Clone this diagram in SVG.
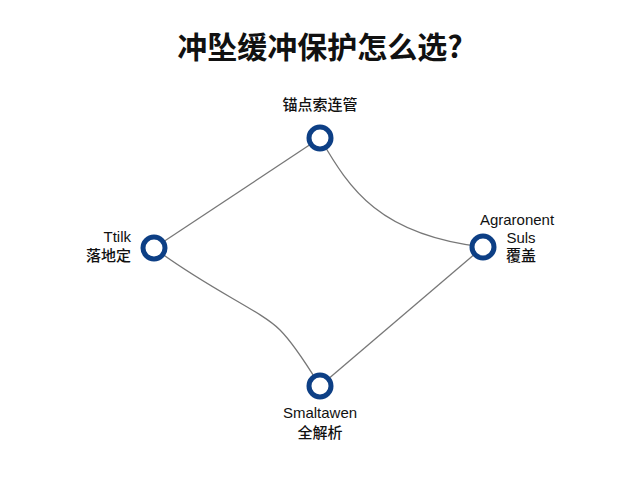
<svg xmlns="http://www.w3.org/2000/svg" width="640" height="480" viewBox="0 0 640 480">
<style>
.t{font-family:"Liberation Sans","Noto Sans CJK SC",sans-serif;fill:#111;font-size:15px;font-weight:500}
.n{fill:#fff;stroke:#0d3f85;stroke-width:5}
.e{fill:none;stroke:#777;stroke-width:1.3}
</style>
<rect width="640" height="480" fill="#fff"/>
<text x="320" y="58" text-anchor="middle" style="font-family:'Noto Sans CJK SC',sans-serif;font-size:30px;font-weight:bold;fill:#111">冲坠缓冲保护怎么选?</text>
<g id="connectors">
<path class="e" d="M154,248 L320,138"/>
<path class="e" d="M320,138 C350,190 380,235 483,247"/>
<path class="e" d="M154,248 C210,290 260,310 280,330 C295,345 310,370 320,386"/>
<path class="e" d="M320,386 L483,247"/>
</g>
<g id="n1"><circle class="n" cx="320" cy="138" r="11"/><text class="t" x="320" y="110" text-anchor="middle">锚点索连管</text></g>
<g id="n2"><circle class="n" cx="154" cy="248" r="11"/><text class="t" x="131" y="242" text-anchor="end">Ttilk</text><text class="t" x="131" y="261" text-anchor="end">落地定</text></g>
<g id="n3"><circle class="n" cx="483" cy="247" r="11"/><text class="t" x="517" y="225" text-anchor="middle">Agraronent</text><text class="t" x="521" y="243" text-anchor="middle">Suls</text><text class="t" x="521" y="261" text-anchor="middle">覆盖</text></g>
<g id="n4"><circle class="n" cx="320" cy="386" r="11"/><text class="t" x="320" y="418" text-anchor="middle">Smaltawen</text><text class="t" x="320" y="438" text-anchor="middle">全解析</text></g>
</svg>
